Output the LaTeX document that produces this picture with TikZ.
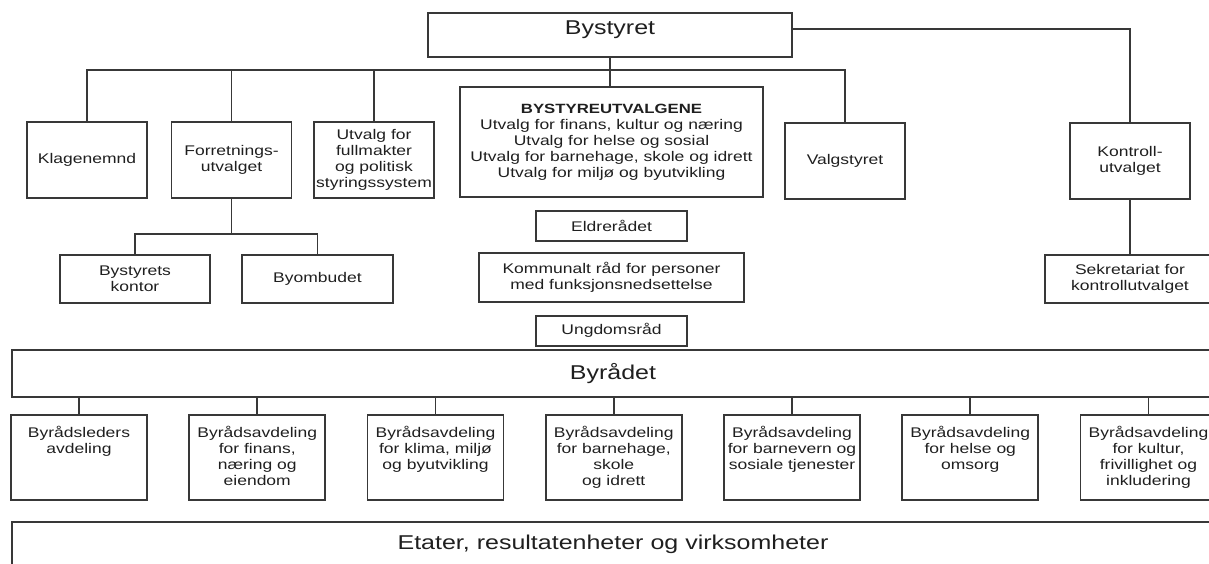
\documentclass[tikz,border=0pt]{standalone}
\usepackage{fontspec}
\setmainfont{Liberation Sans}[FakeStretch=1.25]
\usetikzlibrary{positioning}
\newcommand{\depttext}[1]{\parbox[c][31pt][t]{66pt}{\centering #1}}

\begin{document}
\begin{tikzpicture}[x=0.5pt, y=-0.5pt,
  node distance=6pt,
  org/.style={draw=black!78, line width=0.95pt, text=black!88, inner sep=1pt, minimum width=60pt, minimum height=38pt, align=center, font=\fontsize{7}{8}\selectfont},
  slim/.style={org, minimum height=24pt},
  band/.style={org, minimum width=601pt, minimum height=23.5pt, font=\fontsize{10}{12}\selectfont},
  dept/.style={org, minimum width=67.5pt, minimum height=42.5pt},
  link/.style={draw=black!78, line width=0.95pt}]
\useasboundingbox (0,0) rectangle (1209,563);
\clip (0,0) rectangle (1209,563);
\node[org, minimum width=182pt, minimum height=22pt, font=\fontsize{10}{12}\selectfont, text height=7pt, text depth=8pt] (bystyret) at (610,35) {Bystyret};
\node[org] (klage) at (87,160) {Klagenemnd};
\node[org] (forr) at (231.5,160) {Forretnings-\\utvalget};
\node[org] (fullm) at (374,160) {Utvalg for\\fullmakter\\og politisk\\styringssystem};
\node[org, minimum width=151.5pt, minimum height=55pt] (utvalg) at (611.5,142) {\textbf{\fontsize{6.7}{8}\selectfont BYSTYREUTVALGENE}\\Utvalg for finans, kultur og næring\\Utvalg for helse og sosial\\Utvalg for barnehage, skole og idrett\\Utvalg for miljø og byutvikling};
\node[org] (valg) at (845,161) {Valgstyret};
\node[org] (kontroll) at (1130,161) {Kontroll-\\utvalget};
\node[slim, minimum width=75pt] (kontor) at (135,279) {Bystyrets\\kontor};
\node[slim, minimum width=75.5pt] (ombud) at (317.5,279) {Byombudet};
\node[slim, minimum width=85pt] (sekr) at (1130,279) {Sekretariat for\\kontrollutvalget};
\node[slim, minimum width=75.5pt, minimum height=15pt, below=of utvalg] (eldre) {Eldrerådet};
\node[slim, minimum width=132.5pt, minimum height=24.5pt, below=5pt of eldre] (kommunalt) {Kommunalt råd for personer\\med funksjonsnedsettelse};
\node[slim, minimum width=75.5pt, minimum height=15pt, below=of kommunalt] (ungdom) {Ungdomsråd};
\node[band] (byraadet) at (613,373.5) {Byrådet};
\foreach \i/\txt in {1/{Byrådsleders\\avdeling}, 2/{Byrådsavdeling\\for finans,\\næring og\\eiendom}, 3/{Byrådsavdeling\\for klima, miljø\\og byutvikling}, 4/{Byrådsavdeling\\for barnehage,\\skole\\og idrett}, 5/{Byrådsavdeling\\for barnevern og\\sosiale tjenester}, 6/{Byrådsavdeling\\for helse og\\omsorg}, 7/{Byrådsavdeling\\for kultur,\\frivillighet og\\inkludering}}
  \node[dept] (d\i) at ({79+178.25*(\i-1)},457.5) {\depttext{\txt}};
\node[band, minimum height=22.5pt] (etater) at (613,544.5) {Etater, resultatenheter og virksomheter};
\coordinate (bus) at (610,70);
\coordinate (fbus) at (231.5,234);
\draw[link] (klage.north) |- (bus) -| (valg.north);
\foreach \n in {forr,fullm} \draw[link] (\n.north) -- (\n.north |- bus);
\draw[link] (bystyret.south) -- (bystyret.south |- utvalg.north);
\draw[link] ([yshift=3pt]bystyret.east) -| (kontroll.north);
\draw[link] (forr.south) -- (fbus);
\draw[link] (kontor.north) |- (fbus) -| (ombud.north);
\draw[link] (kontroll) -- (sekr);
\foreach \i in {1,...,7} \draw[link] (d\i.north) -- (d\i.north |- byraadet.south);
\end{tikzpicture}
\end{document}
